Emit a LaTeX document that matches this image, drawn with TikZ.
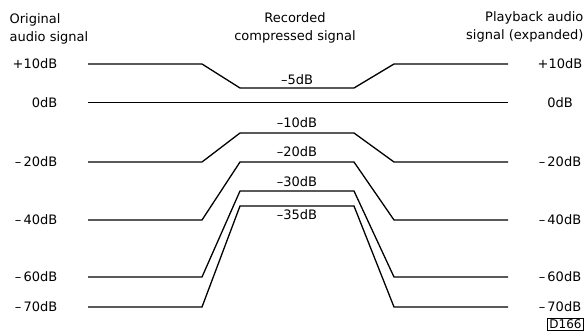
\documentclass[tikz,border=0pt]{standalone}
\usepackage{fontspec}
\setmainfont{DejaVu Sans}
\begin{document}
\begin{tikzpicture}[x=1pt,y=-1pt,line width=1.3pt,
  every node/.style={font=\fontsize{13}{17.5}\selectfont, inner sep=0pt}]
\useasboundingbox (0,0) rectangle (587,332);
% headings
\node[align=left, anchor=north west] (orig) at (9,13) {Original\\audio signal};
\node[align=center, anchor=north] (rec) at (295,12) {Recorded\\compressed signal};
\node[align=right, anchor=north east] (play) at (584,11) {Playback audio\\signal (expanded)};
% level labels, both sides
\foreach \y/\lab/\nm in {64/+10dB/p10, 103/0dB/z0, 162/--\,20dB/m20, 220/--\,40dB/m40,
                         277/--\,60dB/m60, 307/--\,70dB/m70} {
  \node[anchor=east] (in\nm) at (58,\y) {\lab};
  \node (out\nm) at (560,\y) {\lab};
}
% signal paths
\draw (88,102.6) -- (508,102.6);
\foreach \yin/\yrec in {64/88, 162/133, 220/162, 277/191, 307/206}
  \draw (88,\yin) -- (202,\yin) -- (240,\yrec) -- (354,\yrec) -- (394,\yin) -- (508,\yin);
% recorded levels
\node (r5) at (297,80) {--5dB};
\node (r10) at (297,123) {--10dB};
\node (r20) at (297,152) {--20dB};
\node (r30) at (297,182) {--30dB};
\node (r35) at (297,215) {--35dB};
\node[draw, line width=1pt, inner sep=1.8pt, font=\fontsize{12}{14}\selectfont] (ref) at (565.5,324.5) {D166};
\end{tikzpicture}
\end{document}
